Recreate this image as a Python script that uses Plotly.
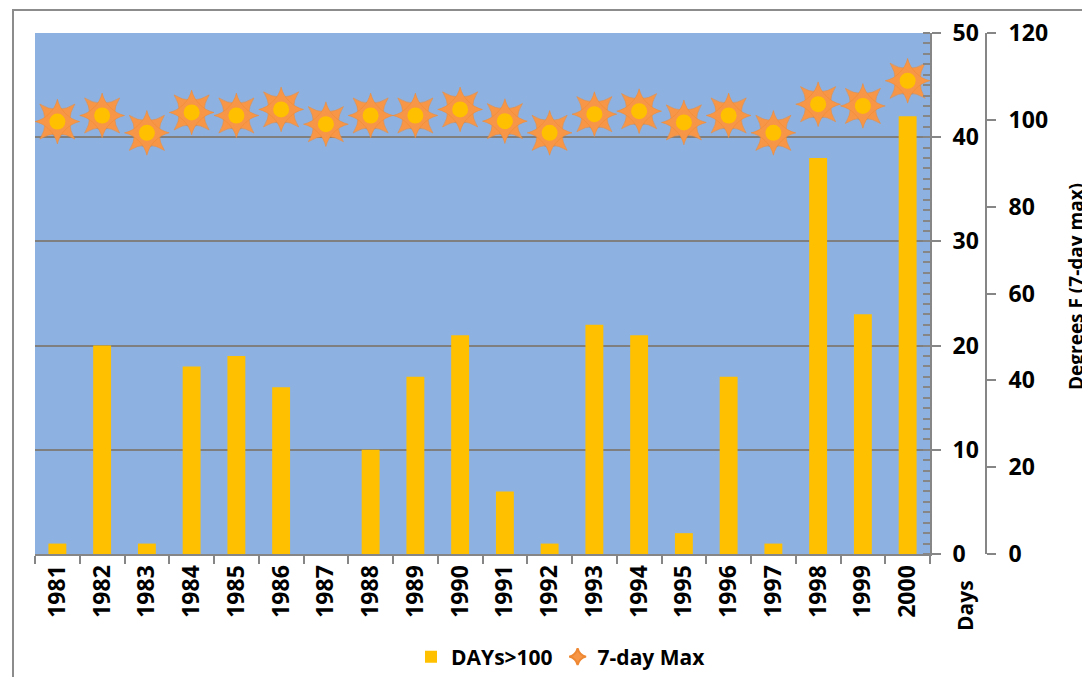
import plotly.graph_objects as go

years = [str(y) for y in range(1981, 2001)]
days_over_100 = [1, 20, 1, 18, 19, 16, 0, 10, 17, 21, 6, 1, 22, 21, 2, 17, 1, 38, 23, 42]
max_7day = [99.6, 101, 97, 101.7, 101, 102.4, 99, 101, 101, 102.4, 99.7, 97, 101.3, 102, 99.4, 101, 97, 103.6, 103.2, 109]

days_ticks = [0, 10, 20, 30, 40, 50]
deg_ticks = [0, 20, 40, 60, 80, 100, 120]

# the page body adds an 8px offset; positions below are in reference pixels
W_PAPER = 965.0
H_PAPER = 521.0
def px(x):
    return (x - 35) / W_PAPER
def py(y):
    return (554 - y) / H_PAPER

FONT = "Open Sans"
fig = go.Figure()

fig.add_trace(go.Bar(
    x=years, y=days_over_100, name="DAYs>100",
    marker=dict(color="#FFC000", line=dict(width=0)),
    width=0.4, yaxis="y",
))

# sun marker: soft shadow, two 4-point stars, center disc
fig.add_trace(go.Scatter(
    x=years, y=[v - 0.6 for v in max_7day], yaxis="y2", mode="markers", showlegend=False, hoverinfo="skip",
    marker=dict(symbol="circle", size=24, color="rgba(40,60,100,0.15)", line=dict(width=0)),
))
fig.add_trace(go.Scatter(
    x=years, y=max_7day, yaxis="y2", mode="markers", showlegend=False, hoverinfo="skip",
    marker=dict(symbol="star-square", size=32, color="#F79646", line=dict(width=0.5, color="#EE8833")),
))
fig.add_trace(go.Scatter(
    x=years, y=max_7day, yaxis="y2", mode="markers", name="7-day Max",
    marker=dict(symbol="star-diamond", size=32, color="#F79646", line=dict(width=0.5, color="#EE8833")),
))
fig.add_trace(go.Scatter(
    x=years, y=max_7day, yaxis="y2", mode="markers", showlegend=False, hoverinfo="skip",
    marker=dict(symbol="circle", size=16, color="#FFC000", line=dict(width=0)),
))

bold = dict(family=FONT, color="black", weight="bold")

fig.update_layout(
    width=1082, height=669,
    margin=dict(l=27, r=90, t=25, b=123, autoexpand=False),
    paper_bgcolor="white",
    plot_bgcolor="#8DB2E2",
    font=dict(family=FONT, color="black", size=18),
    showlegend=True,
    legend=dict(orientation="h", x=px(561), xanchor="center", y=py(657), yanchor="middle",
                font=dict(bold, size=21),
                itemsizing="constant", traceorder="normal", bgcolor="rgba(0,0,0,0)"),
    xaxis=dict(
        domain=[0, px(930)], type="category", tickson="boundaries", range=[-0.5, 19.5],
        ticks="outside", ticklen=8, tickcolor="#868686", tickwidth=2,
        showline=True, linecolor="#868686", linewidth=2,
        tickangle=-90, tickfont=dict(bold, size=23), automargin=False,
        showgrid=False, zeroline=False,
    ),
    yaxis=dict(
        range=[0, 50], side="right", anchor="x", tickvals=days_ticks,
        ticks="outside", ticklen=9, tickcolor="#868686", tickwidth=2,
        showline=True, linecolor="#868686", linewidth=2,
        showgrid=True, gridcolor="#7F7F7F", gridwidth=1.5,
        tickfont=dict(bold, size=23), automargin=False, ticklabelstandoff=7,
        minor=dict(dtick=1, ticks="inside", ticklen=7, tickcolor="#868686", tickwidth=1.5, showgrid=False),
        zeroline=False,
    ),
    yaxis2=dict(
        range=[0, 120], overlaying="y", side="right", anchor="free", position=px(986),
        tickvals=deg_ticks, ticks="outside", ticklen=9, tickcolor="#868686", tickwidth=2,
        showline=True, linecolor="#868686", linewidth=2, showgrid=False, zeroline=False,
        tickfont=dict(bold, size=23), automargin=False, ticklabelstandoff=8,
    ),
    shapes=[
        dict(type="rect", xref="paper", yref="paper",
             x0=px(13), x1=px(1100), y0=py(700), y1=py(10),
             line=dict(color="#8C8C8C", width=2), fillcolor="rgba(0,0,0,0)", layer="below"),
    ],
    annotations=[
        dict(text="Days", xref="paper", yref="paper", x=px(965), y=py(606),
             showarrow=False, textangle=-90, font=dict(bold, size=21),
             xanchor="center", yanchor="middle"),
        dict(text="Degrees F (7-day max)", xref="paper", yref="paper", x=px(1076), y=py(287),
             showarrow=False, textangle=-90, font=dict(bold, size=19),
             xanchor="center", yanchor="middle"),
    ],
)

fig.write_html("out.html")
